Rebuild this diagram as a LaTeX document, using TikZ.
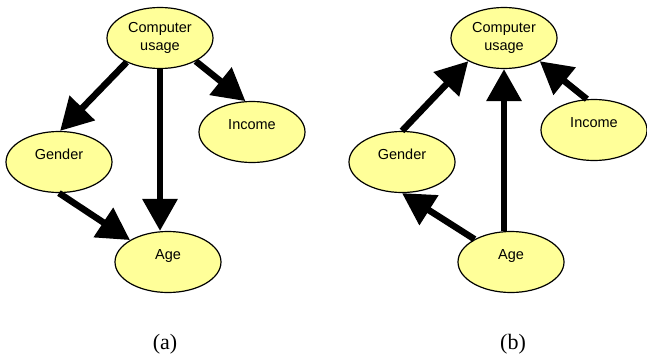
\documentclass[tikz,border=0pt]{standalone}
\usepackage{fontspec}
\setmainfont{Liberation Sans}
\newfontfamily\capfont{Liberation Serif}
\usetikzlibrary{shapes.geometric,arrows.meta}
\definecolor{nodefill}{RGB}{255,255,153}
\begin{document}
\begin{tikzpicture}[x=1pt,y=-1pt,
  ell/.style={ellipse,draw=black,line width=1.2pt,fill=nodefill,
    minimum width=106pt,minimum height=61pt,inner sep=0pt,
    font=\fontsize{14.5}{17.5}\selectfont,align=center},
  onel/.style={ell,text height=11pt,text depth=17pt},
  arr/.style={line width=6.5pt,-{Triangle[length=32pt,width=34pt]}},
  captext/.style={font=\capfont\fontsize{22}{26}\selectfont}]
\useasboundingbox (0,0) rectangle (647,356);
% panel (a)
\node[ell]  (cuA)  at (160,38)  {Computer\\usage};
\node[onel] (genA) at (59,162)  {Gender};
\node[onel] (incA) at (252,132) {Income};
\node[onel] (ageA) at (168,262) {Age};
\draw[arr] (cuA.216) -- (genA.88);
\draw[arr] (cuA.south) -- (cuA.south |- ageA.north);
\draw[arr] (cuA.-33) -- (incA.102);
\draw[arr] (genA.south) -- (ageA.150);
\node[captext] (la) at (165,344) {(a)};
% panel (b)
\node[ell]  (cuB)  at (504,38)  {Computer\\usage};
\node[onel] (genB) at (402,162) {Gender};
\node[onel] (incB) at (594,130) {Income};
\node[onel] (ageB) at (511,262) {Age};
\draw[arr] (genB.north) -- (cuB.213);
\draw[arr] (cuB.south |- ageB.north) -- (cuB.south);
\draw[arr] (incB.103) -- (cuB.-33);
\draw[arr] (ageB.148) -- (genB.south);
\node[captext] (lb) at (513,344) {(b)};
\end{tikzpicture}
\end{document}
